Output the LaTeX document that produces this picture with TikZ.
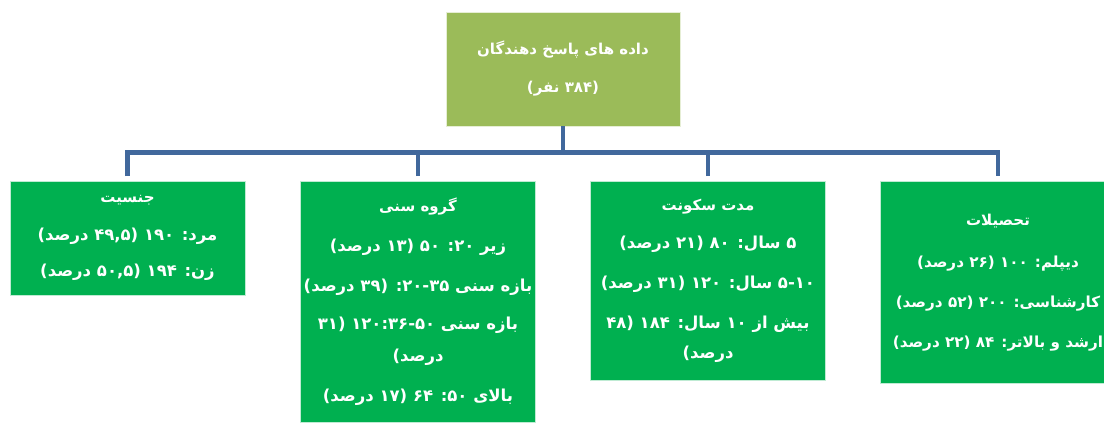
\documentclass[tikz,border=0pt]{standalone}
\usepackage{fontspec}
\newfontfamily\arabicfont[Script=Arabic]{DejaVu Sans}
\TeXXeTstate=1
\usetikzlibrary{calc}
\definecolor{topgreen}{HTML}{9BBB59}
\definecolor{boxgreen}{HTML}{00B050}
\definecolor{connblue}{HTML}{41689C}
\newcommand{\hd}[1]{{\fontsize{15}{30}\selectfont\beginR #1\endR}}
\tikzset{
  topbox/.style={fill=topgreen, draw=white!75!topgreen, line width=0.8pt,
    minimum width=234pt, minimum height=114pt, text=white, align=center,
    font=\arabicfont\bfseries\fontsize{15}{30}\selectfont, inner sep=0pt},
  catbox/.style={fill=boxgreen, draw=white!75!boxgreen, line width=0.8pt,
    minimum width=235pt, anchor=north, text=white, align=center,
    font=\arabicfont\bfseries\fontsize{16.5}{30}\selectfont, inner sep=0pt},
  conn/.style={draw=connblue, line width=4.5pt}
}
\begin{document}
\begin{tikzpicture}[x=1pt,y=-1pt]
\useasboundingbox (0,0) rectangle (1104,423);
\clip (0,0) rectangle (1104,423);
\fill[white] (0,0) rectangle (1104,423);

\node[topbox] (top) at (563,69) {\beginR داده های پاسخ دهندگان\endR\\[8pt]\beginR (۳۸۴ نفر)\endR};

\node[catbox, minimum height=114pt] (b1) at (127.5,181) {%
\hd{جنسیت}\\[8pt]
\beginR مرد: ۱۹۰ (۴۹,۵ درصد)\endR\\[6pt]
\beginR زن: ۱۹۴ (۵۰,۵ درصد)\endR};

\node[catbox, minimum height=241pt] (b2) at (418,181) {%
\hd{گروه سنی}\\[10pt]
\beginR زیر ۲۰: ۵۰ (۱۳ درصد)\endR\\[10pt]
\beginR بازه سنی \beginL۲۰-۳۵\endL: (۳۹ درصد)\endR\\[8pt]
\beginR بازه سنی \beginL۳۶-۵۰\endL:\beginL۱۲۰\endL{} (۳۱\endR\\[2pt]
\beginR درصد)\endR\\[10pt]
\beginR بالای ۵۰: ۶۴ (۱۷ درصد)\endR};

\node[catbox, minimum height=199pt] (b3) at (708,181) {%
\hd{مدت سکونت}\\[8pt]
\beginR ۵ سال: ۸۰ (۲۱ درصد)\endR\\[10pt]
\beginR \beginL۵-۱۰\endL{} سال: ۱۲۰ (۳۱ درصد)\endR\\[10pt]
\beginR بیش از ۱۰ سال: ۱۸۴ (۴۸\endR\\
\beginR درصد)\endR};

\node[catbox, minimum height=202pt,
      font=\arabicfont\bfseries\fontsize{15.2}{30}\selectfont] (b4) at (998,181) {%
\hd{تحصیلات}\\[12pt]
\beginR دیپلم: ۱۰۰ (۲۶ درصد)\endR\\[10pt]
\beginR کارشناسی: ۲۰۰ (۵۲ درصد)\endR\\[10pt]
\beginR ارشد و بالاتر: ۸۴ (۲۲ درصد)\endR};

\coordinate (bar) at ($(top.south)+(0,26)$);
\draw[conn] (top.south) -- (bar);
\draw[conn] ($(b1.north)+(0,-5)$) |- (bar) -| ($(b4.north)+(0,-5)$);
\draw[conn] ($(b2.north)+(0,-5)$) -- (b2.north |- bar);
\draw[conn] ($(b3.north)+(0,-5)$) -- (b3.north |- bar);
\end{tikzpicture}
\end{document}
